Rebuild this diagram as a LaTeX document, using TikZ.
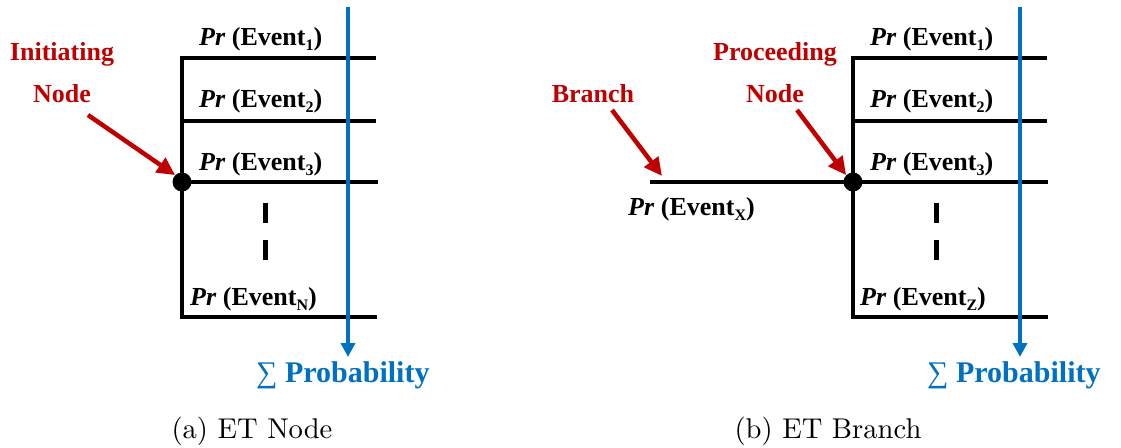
\documentclass[tikz,border=0pt]{standalone}
\usepackage{fontspec}
\newfontfamily\tnr{Liberation Serif}
\usetikzlibrary{arrows.meta}
\definecolor{tred}{RGB}{192,0,0}
\definecolor{tblue}{RGB}{0,112,192}
\newcommand\evsub[1]{\raisebox{-0.2em}{\fontsize{16}{16}\selectfont #1}}
\newcommand\evlabel[1]{\textit{Pr} (Event\evsub{#1})}
\newcommand\captionline[1]{\scalebox{2.86}{\fontsize{10}{12}\selectfont #1}}

\begin{document}
\begin{tikzpicture}[x=1pt,y=-1pt,
  treeline/.style={line width=4pt, line join=miter},
  dashline/.style={line width=5pt},
  dotnode/.style={circle, fill=black, minimum size=19pt, inner sep=0pt},
  evtext/.style={anchor=base west, inner sep=0pt, font=\tnr\bfseries\fontsize{26}{30}\selectfont},
  redtext/.style={anchor=base, inner sep=0pt, text=tred, font=\tnr\bfseries\fontsize{26}{30}\selectfont},
  bluetext/.style={anchor=base west, inner sep=0pt, text=tblue, font=\tnr\bfseries\fontsize{30}{34}\selectfont},
  captext/.style={anchor=base, inner sep=0pt},
  redarrow/.style={draw=tred, line width=4.5pt, -{Triangle[length=18pt, width=17pt]}},
  probarrow/.style={draw=tblue, line width=4pt, -{Triangle[length=14pt, width=14pt]}}]
\useasboundingbox (0,0) rectangle (1121,447);

% ---------------- (a) ET Node ----------------
\coordinate (aT) at (182,58);
\coordinate (aB) at (182,317);
\coordinate (a1e) at (376,58);
\coordinate (a2s) at (182,121);
\coordinate (a2e) at (376,121);
\coordinate (a3e) at (378,182);
\coordinate (aNe) at (377,317);
\draw[treeline] (a1e) -- (aT) -- (aB) -- (aNe);
\draw[treeline] (a2s) -- (a2e);
\node[dotnode] (ainit) at (182,182) {};
\draw[treeline] (ainit.center) -- (a3e);

\coordinate (ad1a) at (265,203);
\coordinate (ad1b) at (265,223);
\coordinate (ad2a) at (265,240);
\coordinate (ad2b) at (265,260);
\draw[dashline] (ad1a) -- (ad1b);
\draw[dashline] (ad2a) -- (ad2b);

\node[evtext] (ae1) at (199,45) {\evlabel{1}};
\node[evtext] (ae2) at (199,107) {\evlabel{2}};
\node[evtext] (ae3) at (199,170) {\evlabel{3}};
\node[evtext] (aeN) at (190,305) {\evlabel{N}};

\node[redtext] (alab1) at (62,60) {Initiating};
\node[redtext] (alab2) at (62,102) {Node};
\coordinate (aarr) at (88,115);
\draw[redarrow] (aarr) -- (ainit.north west);

\node[bluetext] (aprob) at (256,382) {{\mdseries ∑} Probability};
\coordinate (apTop) at (348,7);
\coordinate (apTip) at (348,357);
\draw[probarrow] (apTop) -- (apTip);

\node[captext] (acap) at (252,438) {\captionline{(a) ET Node}};

% ---------------- (b) ET Branch ----------------
\coordinate (bT) at (853,58);
\coordinate (bB) at (853,317);
\coordinate (b1e) at (1047,58);
\coordinate (b2s) at (853,121);
\coordinate (b2e) at (1047,121);
\coordinate (bXs) at (650,182);
\coordinate (b3e) at (1048,182);
\coordinate (bZe) at (1048,317);
\draw[treeline] (b1e) -- (bT) -- (bB) -- (bZe);
\draw[treeline] (b2s) -- (b2e);
\node[dotnode] (bnode) at (853,182) {};
\draw[treeline] (bXs) -- (bnode.center) -- (b3e);

\coordinate (bd1a) at (936,203);
\coordinate (bd1b) at (936,223);
\coordinate (bd2a) at (936,240);
\coordinate (bd2b) at (936,260);
\draw[dashline] (bd1a) -- (bd1b);
\draw[dashline] (bd2a) -- (bd2b);

\node[evtext] (be1) at (870,45) {\evlabel{1}};
\node[evtext] (be2) at (870,107) {\evlabel{2}};
\node[evtext] (be3) at (870,170) {\evlabel{3}};
\node[evtext] (beZ) at (860,305) {\evlabel{Z}};
\node[evtext] (beX) at (628,215) {\evlabel{X}};

\node[redtext] (blab1) at (593,102) {Branch};
\coordinate (barr1s) at (612,110);
\coordinate (barr1e) at (662,176);
\draw[redarrow] (barr1s) -- (barr1e);

\node[redtext] (blab2) at (775,60) {Proceeding};
\node[redtext] (blab3) at (775,102) {Node};
\coordinate (barr2s) at (797,110);
\draw[redarrow] (barr2s) -- (bnode.north west);

\node[bluetext] (bprob) at (927,382) {{\mdseries ∑} Probability};
\coordinate (bpTop) at (1020,7);
\coordinate (bpTip) at (1020,357);
\draw[probarrow] (bpTop) -- (bpTip);

\node[captext] (bcap) at (828,438) {\captionline{(b) ET Branch}};
\end{tikzpicture}
\end{document}
